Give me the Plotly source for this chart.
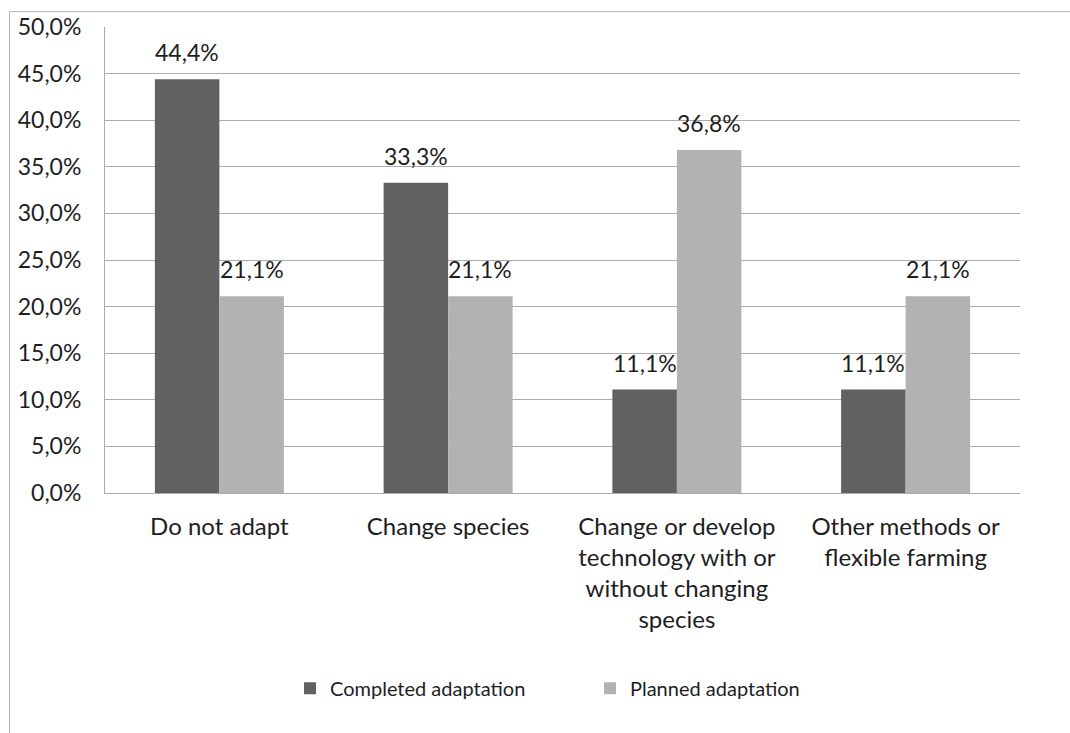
import plotly.graph_objects as go

categories = [
    "Do not adapt",
    "Change species",
    "Change or develop<br>technology with or<br>without changing<br>species",
    "Other methods or<br>flexible farming",
]
completed = [44.4, 33.3, 11.1, 11.1]
planned = [21.1, 21.1, 36.8, 21.1]
series_names = ["Completed adaptation", "Planned adaptation"]
y_ticks = [0, 5, 10, 15, 20, 25, 30, 35, 40, 45, 50]


def pct(v):
    return f"{v:.1f}".replace(".", ",") + "%"


DARK = "#616161"
LIGHT = "#b2b2b2"
TEXT = "#1e1e1e"
GRID = "#ababab"
FONT = "Lato"

W, H = 1070, 733
ML, MR, MT, MB = 105, 50, 23, 240
PW, PH = W - ML - MR, H - MT - MB
BARGAP = 0.436

fig = go.Figure()
fig.add_trace(go.Bar(name=series_names[0], x=categories, y=completed,
                     marker=dict(color=DARK, line=dict(width=0))))
fig.add_trace(go.Bar(name=series_names[1], x=categories, y=planned,
                     marker=dict(color=LIGHT, line=dict(width=0))))

# value labels above each bar
BAR_PX = PW / len(categories) * (1 - BARGAP) / 2
for vals, shift in ((completed, -BAR_PX / 2), (planned, BAR_PX / 2)):
    for cat, v in zip(categories, vals):
        fig.add_annotation(x=cat, y=v, text=pct(v),
                           showarrow=False, xshift=shift, yshift=11,
                           yanchor="bottom", font=dict(family=FONT, size=23, color=TEXT))

# outer chart frame (left and top edges)
px2x = lambda px: (px - ML) / PW
py2y = lambda py: 1 - (py - MT) / PH
fig.add_shape(type="line", xref="paper", yref="paper",
              x0=px2x(9.5), x1=px2x(9.5), y0=py2y(7.5), y1=py2y(760),
              line=dict(color="#b5b5b5", width=1))
fig.add_shape(type="line", xref="paper", yref="paper",
              x0=px2x(9.5), x1=px2x(1100), y0=py2y(7.5), y1=py2y(7.5),
              line=dict(color="#b5b5b5", width=1))

fig.update_layout(
    width=W, height=H,
    margin=dict(l=ML, r=MR, t=MT, b=MB),
    paper_bgcolor="white", plot_bgcolor="white",
    barmode="group", bargap=BARGAP, bargroupgap=0,
    font=dict(family=FONT, size=23, color=TEXT),
    showlegend=True,
    legend=dict(orientation="h", x=px2x(290), xanchor="left",
                y=py2y(690), yanchor="middle",
                font=dict(family=FONT, size=20, color=TEXT),
                entrywidth=255, entrywidthmode="pixels",
                itemclick=False, itemdoubleclick=False),
)
fig.update_xaxes(showline=True, linecolor=GRID, linewidth=1, ticks="",
                 ticklabelstandoff=12, tickfont=dict(family=FONT, size=24, color=TEXT),
                 fixedrange=True)
fig.update_yaxes(range=[0, 50], tickvals=y_ticks, ticktext=[pct(t) for t in y_ticks],
                 showgrid=True, gridcolor=GRID, gridwidth=1,
                 showline=True, linecolor=GRID, linewidth=1, ticks="",
                 zeroline=False, ticklabelstandoff=18,
                 tickfont=dict(family=FONT, size=23, color=TEXT), fixedrange=True)

fig.write_html("out.html", config={"displayModeBar": False})
